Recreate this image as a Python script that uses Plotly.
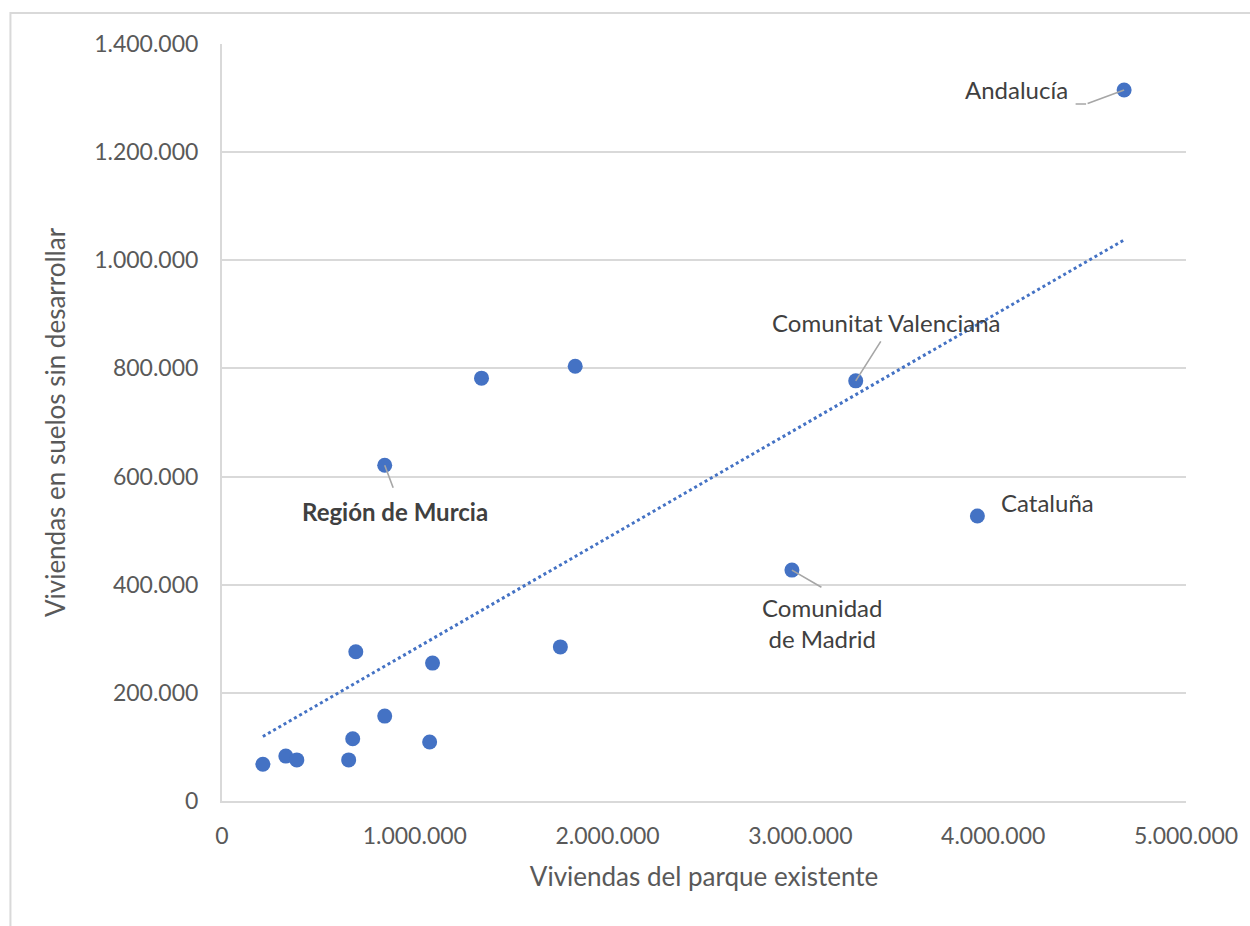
import numpy as np
import plotly.graph_objects as go

# Viviendas del parque existente (x) y viviendas en suelos sin desarrollar (y) por comunidad
comunidades = [
    "C1", "C2", "C3", "C4", "C5", "C6", "C7", "Región de Murcia", "C9", "C10",
    "C11", "C12", "C13", "Comunidad de Madrid", "Comunitat Valenciana", "Cataluña", "Andalucía",
]
parque_existente = [
    212000, 331000, 388000, 657000, 678000, 694000, 844000, 844000, 1077000, 1092000,
    1346000, 1755000, 1832000, 2956000, 3287000, 3918000, 4679000,
]
suelos_sin_desarrollar = [
    68000, 83000, 76000, 76000, 115000, 276000, 157000, 621000, 109000, 255000,
    782000, 285000, 804000, 427000, 777000, 527000, 1315000,
]

x_ticks = [0, 1000000, 2000000, 3000000, 4000000, 5000000]
y_ticks = [0, 200000, 400000, 600000, 800000, 1000000, 1200000, 1400000]

BLUE = "#4472C4"
GRID = "#d9d9d9"
TXT = "#595959"
LBL = "#404040"
FONT = "Lato"

xs = np.array(parque_existente, dtype=float)
ys = np.array(suelos_sin_desarrollar, dtype=float)

# Línea de tendencia lineal (mínimos cuadrados)
slope, intercept = np.polyfit(xs, ys, 1)
x_fit = np.array([xs.min(), xs.max()])
y_fit = slope * x_fit + intercept

fig = go.Figure()
fig.add_trace(go.Scatter(
    x=x_fit, y=y_fit, mode="lines",
    line=dict(color=BLUE, width=3, dash="dot"),
    hoverinfo="skip", showlegend=False,
))
fig.add_trace(go.Scatter(
    x=xs, y=ys, mode="markers", text=comunidades,
    marker=dict(color=BLUE, size=15, line=dict(width=0)),
    showlegend=False,
))

idx = {n: i for i, n in enumerate(comunidades)}

def pt(name):
    i = idx[name]
    return parque_existente[i], suelos_sin_desarrollar[i]

# Etiquetas de texto desplazadas respecto a su punto
labels = [
    ("Andalucía", "Andalucía", -108, 0, False),
    ("Comunitat Valenciana", "Comunitat Valenciana", 31, 58, False),
    ("Región de Murcia", "Región de Murcia", 10, -46, True),
    ("Comunidad de Madrid", "Comunidad<br>de Madrid", 30, -53, False),
    ("Cataluña", "Cataluña", 70, 14, False),
]
for name, text, dx, dy, bold in labels:
    x, y = pt(name)
    fig.add_annotation(
        x=x, y=y, text=f"<b>{text}</b>" if bold else text,
        showarrow=False, xshift=dx, yshift=dy,
        font=dict(family=FONT, size=24, color=LBL),
        align="center",
    )

# Líneas guía entre etiqueta y punto
leaders = [
    ("Andalucía", -38, 14),
    ("Comunitat Valenciana", 26, -41),
    ("Región de Murcia", 9, 24),
    ("Comunidad de Madrid", 31, 18),
]
for name, ax, ay in leaders:
    x, y = pt(name)
    fig.add_annotation(
        x=x, y=y, text="", showarrow=True, arrowhead=0, arrowwidth=1.6,
        arrowcolor="#a6a6a6", ax=ax, ay=ay, standoff=0, startstandoff=0,
    )
# tramo horizontal de la guía de Andalucía
xa, ya = pt("Andalucía")
fig.add_annotation(
    x=xa, y=ya, text="", showarrow=True, arrowhead=0, arrowwidth=1.6,
    arrowcolor="#a6a6a6", xshift=-38, yshift=-14, ax=-12, ay=0,
)

# Marco exterior del gráfico
fig.add_shape(
    type="rect", xref="paper", yref="paper",
    x0=(10 - 222) / 966, x1=1.2, y0=-0.4, y1=(801 - 13) / 757,
    line=dict(color=GRID, width=2), fillcolor="rgba(0,0,0,0)", layer="below",
)

fig.update_layout(
    width=1250, height=926,
    margin=dict(l=222, r=62, t=44, b=125),
    paper_bgcolor="white", plot_bgcolor="white",
    separators=",.",
    font=dict(family=FONT, size=23, color=TXT),
    xaxis=dict(
        range=[0, 5000000], tickvals=x_ticks, tickformat=",d",
        showgrid=False, zeroline=False,
        showline=True, linecolor=GRID, linewidth=2,
        ticks="", ticklabelstandoff=13,
        title=dict(text="Viviendas del parque existente", font=dict(size=26, color=TXT), standoff=20),
        tickfont=dict(size=23, color=TXT),
    ),
    yaxis=dict(
        range=[0, 1400000], tickvals=y_ticks, tickformat=",d",
        showgrid=True, gridcolor=GRID, gridwidth=2, zeroline=False,
        showline=True, linecolor=GRID, linewidth=2,
        ticks="", ticklabelstandoff=17,
        title=dict(text="Viviendas en suelos sin desarrollar", font=dict(size=26, color=TXT), standoff=21),
        tickfont=dict(size=23, color=TXT),
    ),
)

fig.write_html("out.html")
